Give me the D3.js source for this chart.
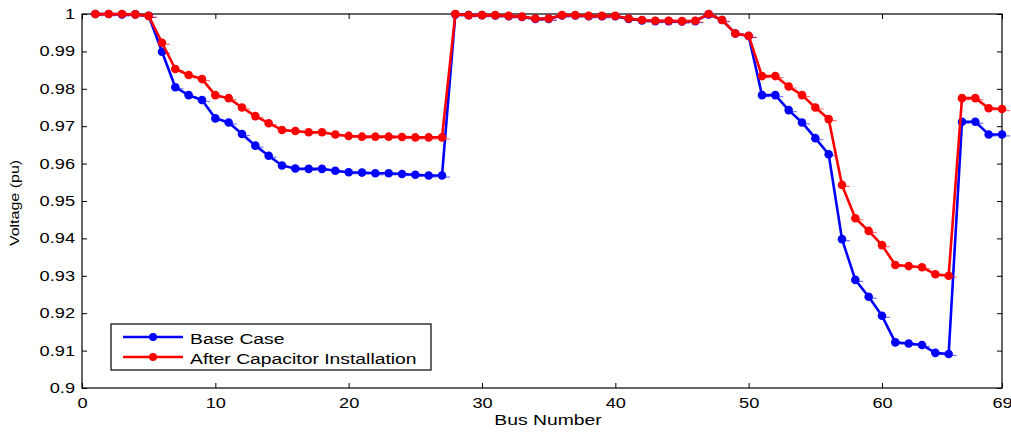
<!DOCTYPE html>
<html><head><meta charset="utf-8">
<script src="https://cdn.jsdelivr.net/npm/d3@7"></script>
<style>body{margin:0;background:#fff}svg{display:block}text{font-family:"Liberation Sans",Arial,sans-serif}</style>
</head><body><svg id="c" width="1011" height="432"></svg>
<script>
const buses = d3.range(1, 70);
const baseCase = [1.0000,1.0000,0.9999,0.9999,0.9995,0.9899,0.9804,0.9783,0.9770,0.9721,0.9710,0.9679,0.9648,0.9621,0.9595,0.9587,0.9586,0.9586,0.9581,0.9577,0.9576,0.9574,0.9574,0.9572,0.9570,0.9568,0.9568,
0.9999,0.9997,0.9997,0.9996,0.9994,0.9992,0.9987,0.9987,0.9996,0.9996,0.9994,0.9994,0.9994,0.9987,0.9983,0.9981,0.9981,0.9980,0.9981,0.9999,0.9984,0.9948,0.9941,
0.9783,0.9783,0.9743,0.9710,0.9668,0.9625,0.9398,0.9289,0.9244,0.9193,0.9122,0.9119,0.9115,0.9094,0.9091,0.9712,0.9712,0.9678,0.9678];
const afterCap = [1.0000,1.0000,1.0000,0.9999,0.9995,0.9923,0.9853,0.9837,0.9826,0.9783,0.9775,0.9750,0.9727,0.9708,0.9690,0.9687,0.9684,0.9684,0.9678,0.9674,0.9672,0.9672,0.9672,0.9671,0.9670,0.9670,0.9670,
1.0000,0.9997,0.9997,0.9997,0.9995,0.9993,0.9988,0.9988,0.9997,0.9997,0.9995,0.9995,0.9995,0.9988,0.9984,0.9982,0.9982,0.9981,0.9982,1.0000,0.9984,0.9948,0.9942,
0.9834,0.9834,0.9806,0.9783,0.9750,0.9719,0.9543,0.9454,0.9420,0.9382,0.9329,0.9326,0.9323,0.9304,0.9300,0.9775,0.9775,0.9748,0.9746];
const xTicks = [0,10,20,30,40,50,60,69];
const yTicks = [0.9,0.91,0.92,0.93,0.94,0.95,0.96,0.97,0.98,0.99,1];
const yTickLabels = ["0.9","0.91","0.92","0.93","0.94","0.95","0.96","0.97","0.98","0.99","1"];
const seriesNames = ["Base Case","After Capacitor Installation"];
const seriesColors = ["#0000ff","#ff0000"];

const svg = d3.select("#c");
const L=82,R=1002,T=14,B=388;
const x = d3.scaleLinear().domain([0,69]).range([L,R]);
const y = d3.scaleLinear().domain([0.9,1]).range([B,T]);

// widen text like the reference's rendering
function widen(sel,k){
  sel.each(function(){
    const w=this.getComputedTextLength();
    d3.select(this).attr("textLength",w*k).attr("lengthAdjust","spacingAndGlyphs");
  });
}

svg.append("rect").attr("x",L).attr("y",T).attr("width",R-L).attr("height",B-T)
  .attr("fill","none").attr("stroke","#000").attr("stroke-width",1.2);

const tk=5;
svg.append("g").attr("transform",`translate(0,${B})`)
  .call(d3.axisBottom(x).tickValues(xTicks).tickSizeInner(-tk).tickSizeOuter(0).tickPadding(10))
  .call(g=>{g.select(".domain").remove();g.selectAll("text").attr("font-size",14).attr("fill","#000").call(widen,1.3);});
svg.append("g").attr("transform",`translate(0,${T})`)
  .call(d3.axisTop(x).tickValues(xTicks).tickSizeInner(-tk).tickSizeOuter(0).tickFormat(""))
  .call(g=>g.select(".domain").remove());
svg.append("g").attr("transform",`translate(${L},0)`)
  .call(d3.axisLeft(y).tickValues(yTicks).tickSizeInner(-tk).tickSizeOuter(0).tickPadding(7)
    .tickFormat((d,i)=>yTickLabels[i]))
  .call(g=>{g.select(".domain").remove();g.selectAll("text").attr("font-size",14).attr("fill","#000").call(widen,1.3);});
svg.append("g").attr("transform",`translate(${R},0)`)
  .call(d3.axisRight(y).tickValues(yTicks).tickSizeInner(-tk).tickSizeOuter(0).tickFormat(""))
  .call(g=>g.select(".domain").remove());
svg.selectAll(".tick line").attr("stroke","#000");

svg.append("text").attr("x",548).attr("y",425).attr("text-anchor","middle")
  .attr("font-size",14).text("Bus Number").call(widen,1.38);
svg.append("text").attr("transform",`translate(19,${203}) rotate(-90)`).attr("text-anchor","middle")
  .attr("font-size",13).text("Voltage (pu)").call(widen,1.23);

const data=[baseCase,afterCap];
const line=d3.line().x((d,i)=>x(buses[i])).y(d=>y(d));
data.forEach((vals,k)=>{
  const g=svg.append("g");
  g.append("path").datum(vals).attr("d",line).attr("fill","none")
    .attr("stroke",seriesColors[k]).attr("stroke-width",2.6).attr("stroke-linejoin","round");
  g.selectAll("line.m").data(vals).join("line").attr("class","m")
    .attr("x1",(d,i)=>x(buses[i])).attr("x2",(d,i)=>x(buses[i])+8)
    .attr("y1",d=>y(d)+1.5).attr("y2",d=>y(d)+1.5)
    .attr("stroke",seriesColors[k]).attr("stroke-opacity",0.55).attr("stroke-width",1.2);
  g.selectAll("circle").data(vals).join("circle")
    .attr("cx",(d,i)=>x(buses[i])).attr("cy",d=>y(d)).attr("r",4.3)
    .attr("fill",seriesColors[k]);
});

const lg=svg.append("g");
lg.append("rect").attr("x",111).attr("y",324).attr("width",320).attr("height",46)
  .attr("fill","#fff").attr("stroke","#000").attr("stroke-width",1.2);
seriesNames.forEach((n,k)=>{
  const yy=337+k*20;
  lg.append("line").attr("x1",123).attr("x2",183).attr("y1",yy).attr("y2",yy)
    .attr("stroke",seriesColors[k]).attr("stroke-width",2.6);
  lg.append("circle").attr("cx",153).attr("cy",yy).attr("r",4).attr("fill",seriesColors[k]);
  lg.append("text").attr("x",190).attr("y",yy+7).attr("font-size",14).text(n).call(widen,1.38);
});
</script></body></html>
